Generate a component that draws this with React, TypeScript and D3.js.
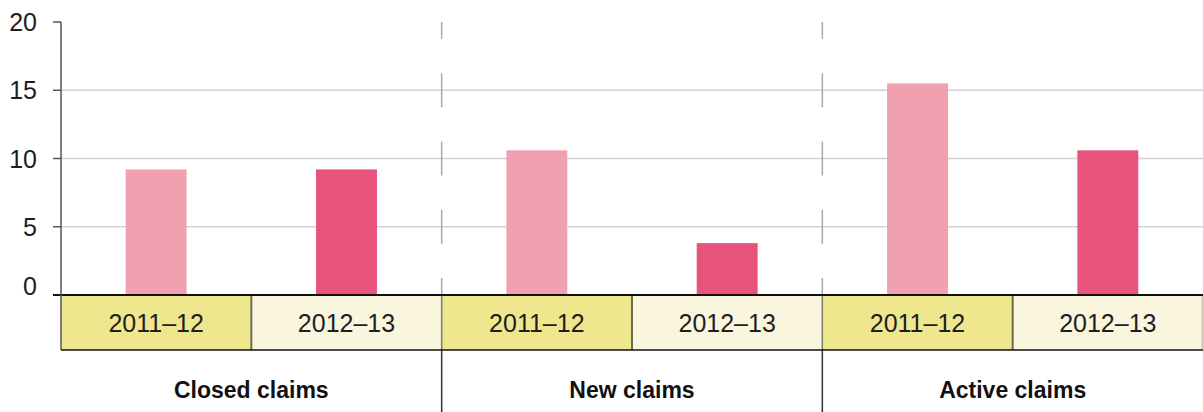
import React from "react";
import * as d3 from "d3";

const groups = ["Closed claims", "New claims", "Active claims"];
const periods = ["2011–12", "2012–13"];
const values2011 = [9.2, 10.6, 15.5];
const values2012 = [9.2, 3.8, 10.6];
const yTicks = [0, 5, 10, 15, 20];

const periodColors = ["#F1A0AF", "#E8537B"];
const cellColors = ["#EFE78D", "#FAF6DE"];

const W = 1203;
const H = 412;
const left = 61;
const top = 22;
const bottom = 295;
const tableBottom = 350;

export default function App() {
  const y = d3.scaleLinear().domain([0, 20]).range([bottom, top]);
  const gx = d3.scaleBand<string>().domain(groups).range([left, W]).padding(0);
  const px = d3.scaleBand<string>().domain(periods).range([0, gx.bandwidth()]).padding(0);
  const barW = px.bandwidth() * 0.32;

  const rows = groups.flatMap((g, i) => [
    { g, p: periods[0], v: values2011[i], ci: 0 },
    { g, p: periods[1], v: values2012[i], ci: 1 },
  ]);

  const tickFont = "'Liberation Sans', Arial, sans-serif";
  const narrowFont = "'Liberation Sans Narrow', 'Arial Narrow', 'Liberation Sans', sans-serif";

  return (
    <svg width={W} height={H} style={{ position: "absolute", left: 0, top: 0 }}>
      <rect x={0} y={0} width={W} height={H} fill="#fff" />
      {/* gridlines */}
      {yTicks.filter((t) => t > 0 && t < 20).map((t) => (
        <line key={"g" + t} x1={left} x2={W} y1={y(t)} y2={y(t)} stroke="#d2d2d2" strokeWidth={1.5} />
      ))}
      {/* group separators: dashes centered on ticks */}
      {groups.slice(1).map((g) =>
        yTicks.map((t) => (
          <line
            key={"d" + g + t}
            x1={gx(g)!}
            x2={gx(g)!}
            y1={Math.max(top, y(t) - 17)}
            y2={Math.min(bottom, y(t) + 17)}
            stroke="#a8a8a8"
            strokeWidth={1.5}
          />
        ))
      )}
      {/* bars */}
      {rows.map((r) => (
        <rect
          key={"b" + r.g + r.p}
          x={gx(r.g)! + px(r.p)! + (px.bandwidth() - barW) / 2}
          y={y(r.v)}
          width={barW}
          height={bottom - y(r.v)}
          fill={periodColors[r.ci]}
        />
      ))}
      {/* table cells */}
      {rows.map((r) => (
        <rect
          key={"c" + r.g + r.p}
          x={gx(r.g)! + px(r.p)!}
          y={bottom}
          width={px.bandwidth()}
          height={tableBottom - bottom}
          fill={cellColors[r.ci]}
        />
      ))}
      {/* inner cell borders */}
      {groups.map((g) => (
        <line
          key={"ib" + g}
          x1={gx(g)! + px(periods[1])!}
          x2={gx(g)! + px(periods[1])!}
          y1={bottom}
          y2={tableBottom}
          stroke="#6e6c4e"
          strokeWidth={2}
        />
      ))}
      {groups.slice(1).map((g) => (
        <line key={"gb" + g} x1={gx(g)!} x2={gx(g)!} y1={bottom} y2={tableBottom} stroke="#7a7a70" strokeWidth={1.5} />
      ))}
      <line x1={W - 0.75} x2={W - 0.75} y1={bottom} y2={tableBottom} stroke="#c8c6b0" strokeWidth={1.5} />
      {/* category labels */}
      {rows.map((r) => (
        <text
          key={"t" + r.g + r.p}
          x={gx(r.g)! + px(r.p)! + px.bandwidth() / 2}
          y={(bottom + tableBottom) / 2}
          textAnchor="middle"
          dominantBaseline="central"
          fontFamily={narrowFont}
          fontSize={25}
          fill="#1e1e1e"
        >
          {r.p}
        </text>
      ))}
      {/* title row separators */}
      {groups.slice(1).map((g) => (
        <line key={"ts" + g} x1={gx(g)!} x2={gx(g)!} y1={tableBottom} y2={H} stroke="#333" strokeWidth={1.5} />
      ))}
      {groups.map((g) => (
        <text
          key={"gt" + g}
          x={gx(g)! + gx.bandwidth() / 2}
          y={390}
          textAnchor="middle"
          dominantBaseline="central"
          fontFamily={tickFont}
          fontWeight="bold"
          fontSize={23}
          fill="#111"
        >
          {g}
        </text>
      ))}
      {/* table lines */}
      <line x1={53} x2={W} y1={bottom} y2={bottom} stroke="#111" strokeWidth={2} />
      <line x1={left} x2={W} y1={tableBottom} y2={tableBottom} stroke="#111" strokeWidth={1.5} />
      {/* y axis */}
      <line x1={left} x2={left} y1={top} y2={tableBottom} stroke="#555" strokeWidth={1.5} />
      {yTicks.map((t) => (
        <g key={"yt" + t}>
          {t > 0 && <line x1={53} x2={left} y1={y(t)} y2={y(t)} stroke="#555" strokeWidth={1.5} />}
          <text
            x={37}
            y={Math.min(y(t), 286)}
            textAnchor="end"
            dominantBaseline="central"
            fontFamily={tickFont}
            fontSize={25}
            fill="#1e1e1e"
          >
            {t}
          </text>
        </g>
      ))}
    </svg>
  );
}
